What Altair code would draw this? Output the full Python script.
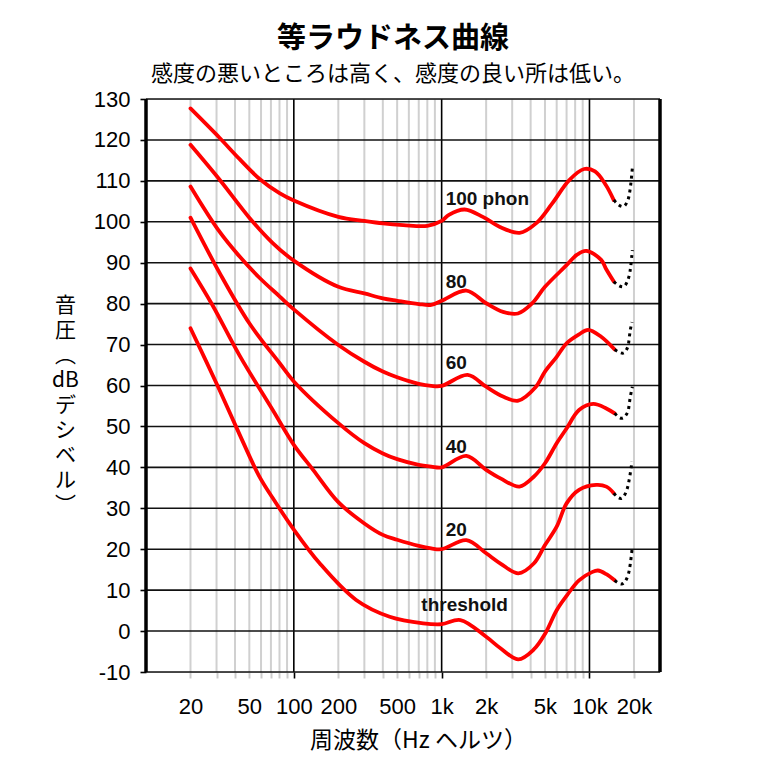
import altair as alt
import pandas as pd

# ---------------- data ----------------
curve_names = ["threshold", "20", "40", "60", "80", "100"]

thr_f = [20, 30, 43, 58, 72, 100, 150, 264, 445, 750, 1000, 1340, 2000, 2500, 3300, 4200, 5000, 6000, 7000, 8500, 10400, 11400, 13000, 14800]
thr_db = [74.0, 60.5, 48.0, 38.0, 32.5, 24.8, 16.5, 7.6, 3.5, 1.9, 1.7, 2.7, -1.4, -4.2, -6.9, -4.5, -0.7, 5.1, 8.6, 12.4, 14.4, 14.8, 13.9, 12.4]

p20_f = [20, 28, 43, 72, 100, 135, 200, 300, 400, 500, 700, 850, 1000, 1470, 2000, 2500, 3300, 4200, 5000, 6000, 7000, 8500, 11100, 13000, 14600]
p20_db = [88.6, 79.8, 67.3, 54.0, 45.5, 39.4, 31.5, 26.3, 23.5, 22.3, 20.8, 20.2, 20.0, 22.2, 19.0, 16.5, 14.1, 16.5, 21.0, 25.5, 31.2, 34.5, 35.7, 35.3, 33.7]

p40_f = [20, 31.6, 50, 80, 100, 200, 300, 400, 500, 700, 850, 1000, 1470, 2000, 2500, 3360, 4200, 5000, 6000, 7000, 8500, 10600, 13000, 14800]
p40_db = [101.0, 87.4, 75.2, 65.5, 61.0, 50.8, 45.9, 43.4, 42.0, 40.6, 40.2, 40.0, 42.8, 39.4, 37.3, 35.3, 37.7, 41.0, 45.9, 49.5, 54.0, 55.5, 54.4, 53.2]

p60_f = [20, 30.8, 43, 59, 80, 100, 200, 300, 400, 500, 700, 850, 1000, 1500, 2000, 2600, 3300, 4300, 5000, 6000, 7000, 8500, 9800, 12000, 14800]
p60_db = [108.6, 98.0, 91.5, 86.2, 81.8, 78.6, 69.9, 65.8, 63.4, 62.0, 60.4, 59.9, 59.9, 62.6, 59.7, 57.3, 56.3, 59.5, 63.4, 67.0, 70.3, 72.5, 73.6, 71.9, 68.8]

p80_f = [20, 31.6, 50, 72, 100, 200, 300, 400, 500, 700, 850, 1000, 1470, 2000, 2600, 3280, 4100, 5000, 7000, 8200, 9500, 12000, 12900, 14600]
p80_db = [118.8, 110.2, 101.0, 94.8, 90.5, 84.1, 82.5, 81.3, 80.7, 79.9, 79.7, 80.7, 83.2, 80.1, 78.0, 77.6, 80.1, 84.1, 89.4, 91.9, 92.9, 90.7, 88.6, 85.4]

p100_f = [20, 31.3, 43, 59, 80, 100, 200, 300, 400, 550, 800, 1000, 1120, 1430, 1900, 2460, 3370, 4350, 5600, 7300, 9200, 10900, 12900, 14600]
p100_db = [127.7, 120.6, 115.3, 110.4, 107.0, 105.2, 101.2, 100.2, 99.6, 99.2, 99.0, 100.2, 101.7, 103.0, 101.2, 98.8, 97.3, 99.6, 104.5, 110.2, 112.9, 112.3, 109.0, 105.3]

# dotted continuations above ~15 kHz
thr_dot_f = [14800, 16500, 18200, 18900, 19500]
thr_dot_db = [12.4, 11.5, 13.5, 16.5, 20.6]
p20_dot_f = [14600, 16300, 17900, 18800, 19400]
p20_dot_db = [33.7, 32.4, 34.5, 38.1, 41.5]
p40_dot_f = [14800, 16500, 18200, 18900, 19500]
p40_dot_db = [53.2, 52.0, 53.6, 57.3, 59.7]
p60_dot_f = [14800, 16800, 18200, 18900, 19400]
p60_dot_db = [68.8, 67.9, 69.5, 73.6, 75.5]
p80_dot_f = [14600, 16800, 18200, 19000, 19500]
p80_dot_db = [85.4, 84.1, 85.8, 89.0, 93.1]
p100_dot_f = [14600, 16800, 18200, 19000, 19500]
p100_dot_db = [105.3, 103.7, 105.3, 109.0, 113.1]

# curve labels
label_texts = ["100 phon", "80", "60", "40", "20", "threshold"]
label_f = [1064, 1064, 1064, 1064, 1064, 729]
label_db = [105.6, 85.4, 65.5, 45.0, 24.7, 6.4]

# axes
x_domain = [10, 30000]
y_domain = [-10, 130]
x_minor_grid = [20, 30, 40, 50, 60, 70, 80, 90, 200, 300, 400, 500, 600, 700, 800, 900,
                2000, 3000, 4000, 5000, 6000, 7000, 8000, 9000, 20000]
x_major_grid = [100, 1000, 10000]
x_label_values = [20, 50, 100, 200, 500, 1000, 2000, 5000, 10000, 20000]
x_label_texts = ["20", "50", "100", "200", "500", "1k", "2k", "5k", "10k", "20k"]
y_values = list(range(-10, 131, 10))

title_text = "等ラウドネス曲線"
subtitle_text = "感度の悪いところは高く、感度の良い所は低い。"
x_title = "周波数（Hz ヘルツ）"
y_title_lines = ["音", "圧", "︵", "dB", "デ", "シ", "ベ", "ル", "︶"]

# ---------------- tables ----------------
solid = [(thr_f, thr_db), (p20_f, p20_db), (p40_f, p40_db), (p60_f, p60_db), (p80_f, p80_db), (p100_f, p100_db)]
dotted = [(thr_dot_f, thr_dot_db), (p20_dot_f, p20_dot_db), (p40_dot_f, p40_dot_db),
          (p60_dot_f, p60_dot_db), (p80_dot_f, p80_dot_db), (p100_dot_f, p100_dot_db)]

def long_table(series):
    rows = []
    for name, (fs, dbs) in zip(curve_names, series):
        for i, (f, d) in enumerate(zip(fs, dbs)):
            rows.append({"curve": name, "f": f, "db": d, "i": i})
    return pd.DataFrame(rows)

solid_df = long_table(solid)
dotted_df = long_table(dotted)
labels_df = pd.DataFrame({"text": label_texts, "f": label_f, "db": label_db})
minor_df = pd.DataFrame({"f": x_minor_grid})
major_df = pd.DataFrame({"f": x_major_grid})
hgrid_df = pd.DataFrame({"db": y_values})
edge_df = pd.DataFrame({"f": x_domain})

xscale = alt.Scale(type="log", domain=x_domain, nice=False)
yscale = alt.Scale(domain=y_domain, nice=False, zero=False)

label_expr = ""
for v, t in zip(x_label_values, x_label_texts):
    label_expr += f"datum.value == {v} ? '{t}' : "
label_expr += "''"
major_test = " || ".join(f"datum.value == {v}" for v in x_major_grid)

tick_values = sorted(x_minor_grid + x_major_grid)

x_axis = alt.Axis(
    values=tick_values, labelExpr=label_expr, labelOverlap=False,
    grid=False, domain=False, ticks=True, tickSize=6,
    tickColor=alt.ExprRef(expr=f"({major_test}) ? '#000000' : '#cccccc'"),
    tickWidth=alt.ExprRef(expr=f"({major_test}) ? 1.6 : 2"),
    labelFont="Liberation Sans", labelFontSize=22, labelColor="black", labelPadding=18,
    title=x_title, titleFont="Noto Sans CJK JP", titleFontSize=23, titleFontWeight="normal",
    titleColor="black", titleAnchor="middle", titleX=272, titleY=68, titleBaseline="middle",
    titleAlign="center",
)

y_axis = alt.Axis(
    values=y_values, labelExpr="'' + datum.value", grid=False, domain=False, ticks=True,
    tickSize=6, tickColor="black", tickWidth=1.6,
    labelFont="Liberation Sans", labelFontSize=22, labelColor="black", labelPadding=10,
    title=y_title_lines, titleFont="Noto Sans CJK JP", titleFontSize=21, titleFontWeight="normal",
    titleColor="black", titleAngle=0, titleAlign="center", titleBaseline="top",
    titleX=-81, titleY=195, titleLineHeight=25,
)

X = alt.X("f:Q", scale=xscale, axis=x_axis)
Y = alt.Y("db:Q", scale=yscale, axis=y_axis)

minor = alt.Chart(minor_df).mark_rule(color="#d0d0d0", strokeWidth=2).encode(x=X)
major = alt.Chart(major_df).mark_rule(color="#000000", strokeWidth=1.6).encode(x=X)
hgrid = alt.Chart(hgrid_df).mark_rule(color="#111111", strokeWidth=1.6).encode(y=Y)
edges = alt.Chart(edge_df).mark_rule(color="#000000", strokeWidth=3.5).encode(x=X)
lines = alt.Chart(solid_df).mark_line(color="#ff0000", strokeWidth=3.8, interpolate="catmull-rom",
                                      strokeCap="round").encode(
    x=X, y=Y, detail="curve:N", order="i:Q",
)
dots = alt.Chart(dotted_df).mark_line(color="#000000", strokeWidth=3, strokeDash=[3, 4],
                                      interpolate="monotone").encode(
    x=X, y=Y, detail="curve:N", order="i:Q",
)
texts = alt.Chart(labels_df).mark_text(align="left", baseline="middle", font="Liberation Sans",
                                       fontWeight="bold", fontSize=19, color="#111111").encode(
    x=X, y=Y, text="text:N",
)

chart = alt.layer(minor, major, hgrid, edges, lines, dots, texts).properties(
    width=514,
    height=573,
    autosize=alt.AutoSizeParams(type="none"),
    padding={"left": 138, "top": 91, "right": 100, "bottom": 88},
    title=alt.TitleParams(
        text=title_text, subtitle=subtitle_text,
        font="Noto Sans CJK JP", fontSize=29, fontWeight="bold", color="black",
        subtitleFont="Noto Sans CJK JP", subtitleFontSize=22, subtitleColor="black",
        subtitleFontWeight="normal",
        anchor="middle", frame="group", offset=3, subtitlePadding=10, dx=-10,
    ),
).configure_view(stroke="black", strokeWidth=2).configure(background="white")

chart.save("out.html", embed_options={"renderer": "svg", "actions": False})
